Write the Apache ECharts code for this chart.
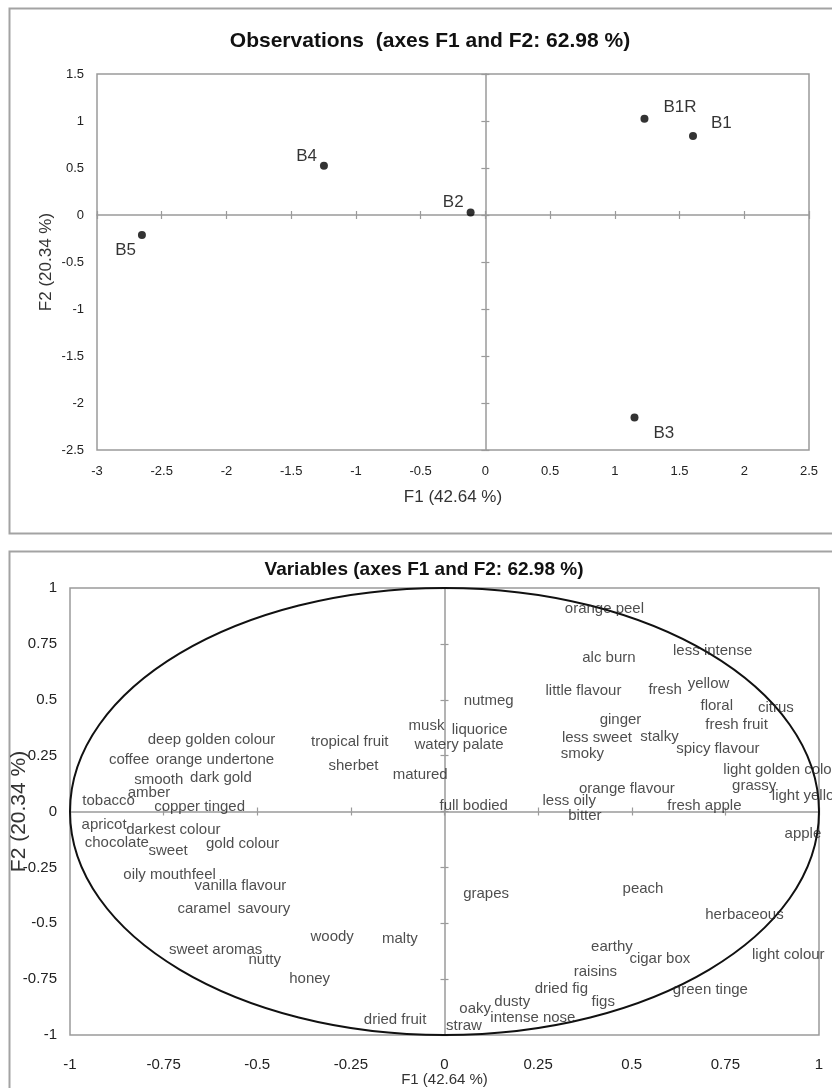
<!DOCTYPE html>
<html>
<head>
<meta charset="utf-8">
<title>PCA observations and variables</title>
<script src="https://cdn.jsdelivr.net/npm/echarts@6/dist/echarts.min.js"></script>
<style>
  html, body { margin: 0; padding: 0; background: #fff; }
  #chart { width: 832px; height: 1088px; }
</style>
</head>
<body>
<div id="chart"></div>
<script>
// Observations: factor scores of each sample on F1 and F2
const obsNames = ['B1R', 'B1', 'B4', 'B2', 'B5', 'B3'];
const obsF1 = [1.229, 1.604, -1.247, -0.114, -2.653, 1.152];
const obsF2 = [1.024, 0.840, 0.523, 0.027, -0.213, -2.155];

// Variables: correlations of each descriptor with F1 and F2
const varNames = [
  'deep golden colour', 'coffee', 'orange undertone', 'smooth', 'dark gold', 'amber',
  'tobacco', 'copper tinged', 'tropical fruit', 'sherbet', 'matured', 'musk',
  'watery palate', 'liquorice', 'nutmeg', 'orange peel', 'alc burn', 'less intense',
  'little flavour', 'fresh', 'yellow', 'floral', 'citrus', 'fresh fruit',
  'ginger', 'less sweet', 'stalky', 'smoky', 'spicy flavour', 'light golden colour',
  'grassy', 'light yellow', 'orange flavour', 'less oily', 'bitter', 'fresh apple',
  'full bodied', 'apple', 'grapes', 'peach', 'herbaceous', 'earthy',
  'cigar box', 'light colour', 'raisins', 'dried fig', 'figs', 'green tinge',
  'oaky', 'dusty', 'intense nose', 'straw', 'dried fruit', 'apricot',
  'darkest colour', 'chocolate', 'sweet', 'gold colour', 'oily mouthfeel', 'vanilla flavour',
  'caramel', 'savoury', 'woody', 'malty', 'sweet aromas', 'nutty',
  'honey'
];
const varF1 = [
  -0.622, -0.842, -0.613, -0.763, -0.597, -0.789,
  -0.897, -0.654, -0.253, -0.243, -0.065, -0.048,
  0.039, 0.094, 0.118, 0.427, 0.439, 0.716,
  0.371, 0.589, 0.705, 0.727, 0.885, 0.780,
  0.470, 0.407, 0.574, 0.368, 0.730, 0.907,
  0.827, 0.972, 0.487, 0.333, 0.375, 0.694,
  0.078, 0.957, 0.111, 0.530, 0.801, 0.447,
  0.575, 0.918, 0.403, 0.312, 0.424, 0.710,
  0.082, 0.181, 0.236, 0.052, -0.132, -0.909,
  -0.724, -0.875, -0.738, -0.539, -0.734, -0.545,
  -0.642, -0.482, -0.300, -0.119, -0.611, -0.480,
  -0.360
];
const varF2 = [
  0.322, 0.232, 0.232, 0.143, 0.152, 0.084,
  0.046, 0.019, 0.311, 0.206, 0.165, 0.381,
  0.296, 0.364, 0.493, 0.906, 0.687, 0.717,
  0.538, 0.545, 0.571, 0.471, 0.464, 0.389,
  0.411, 0.329, 0.332, 0.259, 0.282, 0.188,
  0.113, 0.068, 0.101, 0.046, -0.018, 0.024,
  0.024, -0.100, -0.367, -0.346, -0.464, -0.607,
  -0.659, -0.642, -0.717, -0.793, -0.851, -0.800,
  -0.885, -0.852, -0.922, -0.957, -0.934, -0.058,
  -0.080, -0.140, -0.177, -0.144, -0.282, -0.334,
  -0.435, -0.435, -0.560, -0.569, -0.617, -0.666,
  -0.747
];

// Correlation circle radius
const circleRadius = [1];

// Axis ranges and tick steps
const obsX = { min: -3, max: 2.5, step: 0.5 };
const obsY = { min: -2.5, max: 1.5, step: 0.5 };
const varX = { min: -1, max: 1, step: 0.25 };
const varY = { min: -1, max: 1, step: 0.25 };

const FONT = "'Liberation Sans', Arial, sans-serif";
const GRAY = '#9a9a9a';

// Where each observation label sits relative to its dot
const obsLabelPlace = {
  B1R: { align: 'left',  offset: [19, -11] },
  B1:  { align: 'left',  offset: [18, -13] },
  B4:  { align: 'right', offset: [-7, -10] },
  B2:  { align: 'right', offset: [-7, -10] },
  B5:  { align: 'right', offset: [-6, 15] },
  B3:  { align: 'left',  offset: [19, 16] }
};

// Builds the label axis plus two tick-only zero lines (ticks on both sides)
function axesFor(dim, gridIndex, range, labelOpts, nameOpts) {
  const pos = dim === 'x' ? 'bottom' : 'left';
  const base = {
    type: 'value', gridIndex: gridIndex, position: pos,
    min: range.min, max: range.max, interval: range.step,
    splitLine: { show: false }
  };
  return [
    Object.assign({}, base, {
      axisLine: { show: false, onZero: false },
      axisTick: { show: false },
      nameMoveOverlap: false,
      axisLabel: Object.assign({ color: '#222', fontFamily: FONT }, labelOpts)
    }, nameOpts),
    Object.assign({}, base, {
      axisLine: { show: true, onZero: true, lineStyle: { color: GRAY, width: 1.5 } },
      axisTick: { show: true, inside: false, length: 4, lineStyle: { color: GRAY, width: 1.2 } },
      axisLabel: { show: false }
    }),
    Object.assign({}, base, {
      axisLine: { show: false, onZero: true },
      axisTick: { show: true, inside: true, length: 4, lineStyle: { color: GRAY, width: 1.2 } },
      axisLabel: { show: false }
    })
  ];
}

const xAxes = []
  .concat(axesFor('x', 0, obsX, { fontSize: 13, margin: 15 }, {
    name: 'F1 (42.64 %)', nameLocation: 'middle', nameGap: 39,
    nameTextStyle: { fontSize: 17, color: '#333', fontFamily: FONT }
  }))
  .concat(axesFor('x', 1, varX, { fontSize: 15, margin: 22 }, {
    name: 'F1 (42.64 %)', nameLocation: 'middle', nameGap: 37,
    nameTextStyle: { fontSize: 15, color: '#333', fontFamily: FONT }
  }));

const yAxes = []
  .concat(axesFor('y', 0, obsY, { fontSize: 13, margin: 13 }, {
    name: 'F2 (20.34 %)', nameLocation: 'middle', nameGap: 42, nameRotate: 90,
    nameTextStyle: { fontSize: 17, color: '#333', fontFamily: FONT }
  }))
  .concat(axesFor('y', 1, varY, { fontSize: 15, margin: 13 }, {
    name: 'F2 (20.34 %)', nameLocation: 'middle', nameGap: 40, nameRotate: 90,
    nameTextStyle: { fontSize: 21, color: '#333', fontFamily: FONT }
  }));

const obsData = obsNames.map(function (n, i) {
  const place = obsLabelPlace[n];
  return {
    name: n,
    value: [obsF1[i], obsF2[i]],
    label: { align: place.align, offset: place.offset }
  };
});

const varData = varNames.map(function (n, i) {
  return { name: n, value: [varF1[i], varF2[i]] };
});

const chart = echarts.init(document.getElementById('chart'), null, { renderer: 'canvas' });

chart.setOption({
  backgroundColor: '#fff',
  animation: false,
  graphic: [
    { type: 'rect', left: 7, top: 6, shape: { width: 840, height: 525 },
      style: { fill: 'none', stroke: '#a3a3a3', lineWidth: 2 }, silent: true },
    { type: 'rect', left: 7, top: 549, shape: { width: 840, height: 560 },
      style: { fill: 'none', stroke: '#a3a3a3', lineWidth: 2 }, silent: true }
  ],
  title: [
    {
      text: 'Observations  (axes F1 and F2: 62.98 %)',
      left: 430, top: 31, textAlign: 'center', padding: 0,
      textStyle: { fontFamily: FONT, fontSize: 21, fontWeight: 'bold', color: '#111' }
    },
    {
      text: 'Variables (axes F1 and F2: 62.98 %)',
      left: 424, top: 560, textAlign: 'center', padding: 0,
      textStyle: { fontFamily: FONT, fontSize: 19, fontWeight: 'bold', color: '#111' }
    }
  ],
  grid: [
    { left: 97, top: 74, width: 712, height: 376, show: true, outerBoundsMode: 'none',
      containLabel: false, borderColor: GRAY, borderWidth: 1.5, backgroundColor: 'transparent' },
    { left: 70, top: 588, width: 749, height: 447, show: true, outerBoundsMode: 'none',
      containLabel: false, borderColor: GRAY, borderWidth: 1.5, backgroundColor: 'transparent' }
  ],
  xAxis: xAxes,
  yAxis: yAxes,
  series: [
    {
      type: 'scatter', name: 'Observations',
      xAxisIndex: 0, yAxisIndex: 0,
      symbol: 'circle', symbolSize: 8,
      itemStyle: { color: '#000' },
      label: {
        show: true, position: 'inside', formatter: '{b}',
        fontFamily: FONT, fontSize: 17, color: '#000', verticalAlign: 'middle'
      },
      data: obsData
    },
    {
      type: 'custom', name: 'Correlation circle',
      xAxisIndex: 3, yAxisIndex: 3,
      clip: false,
      data: [[0, 0, circleRadius[0]]],
      renderItem: function (params, api) {
        const c = api.coord([api.value(0), api.value(1)]);
        const unit = api.size([1, 1]);
        const r = api.value(2);
        return {
          type: 'ellipse',
          shape: { cx: c[0], cy: c[1], rx: unit[0] * r, ry: unit[1] * r },
          style: { fill: 'none', stroke: '#111', lineWidth: 2 }
        };
      },
      silent: true
    },
    {
      type: 'scatter', name: 'Variables',
      xAxisIndex: 3, yAxisIndex: 3,
      symbolSize: 1,
      itemStyle: { color: 'rgba(0,0,0,0)' },
      label: {
        show: true, position: 'inside', formatter: '{b}',
        fontFamily: FONT, fontSize: 15, color: '#222',
        align: 'center', verticalAlign: 'middle'
      },
      labelLayout: { hideOverlap: false },
      data: varData
    }
  ]
});
</script>
</body>
</html>
